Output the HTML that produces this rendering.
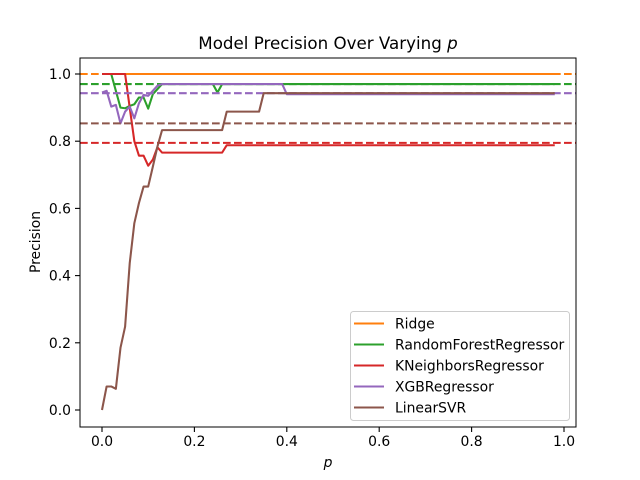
<!DOCTYPE html>
<html><head><meta charset="utf-8"><style>
body{margin:0;background:#fff}
svg{display:block;font-family:"DejaVu Sans","Liberation Sans",sans-serif}
</style></head><body>
<svg id="chart" width="640" height="480" viewBox="0 0 640 480">
<rect width="640" height="480" fill="#fff"/>
<text x="328" y="49" font-size="16.7" text-anchor="middle">Model Precision Over Varying <tspan font-style="italic">p</tspan></text>
<g id="plot"></g>
<rect x="80" y="58" width="496" height="369" fill="none" stroke="#000" stroke-width="1"/>
<g id="ticks"></g>
<text x="328" y="467" font-size="13.9" font-style="italic" text-anchor="middle">p</text>
<text x="0" y="0" font-size="13.9" text-anchor="middle" transform="translate(40,242) rotate(-90)">Precision</text>
<g id="legend"></g>
</svg>
<script>
const names = ["Ridge","RandomForestRegressor","KNeighborsRegressor","XGBRegressor","LinearSVR"];
const colors = ["#ff7f0e","#2ca02c","#d62728","#9467bd","#8c564b"];
const baselines = [1.0, 0.97, 0.795, 0.943, 0.853];
const xStep = 0.01;
const ridge = [].concat(Array(99).fill(1.0));
const forest = [].concat([1,1,1,0.95,0.90,0.898,0.905,0.91,0.93,0.93,0.897,0.94,0.955], Array(12).fill(0.97), [0.945], Array(73).fill(0.97));
const knn = [].concat([1,1,1,1,1,1,0.9,0.8,0.757,0.757,0.727,0.745,0.782], Array(14).fill(0.766), Array(72).fill(0.788));
const xgb = [].concat([0.945,0.95,0.903,0.908,0.853,0.888,0.903,0.868,0.913,0.938,0.935,0.95,0.965], Array(27).fill(0.97), Array(59).fill(0.94));
const svr = [].concat([0,0.07,0.07,0.063,0.185,0.248,0.437,0.556,0.616,0.665,0.665,0.724,0.784,0.833], Array(13).fill(0.833), Array(8).fill(0.888), Array(64).fill(0.943));
const series = [ridge, forest, knn, xgb, svr];
const xTicks = [0,0.2,0.4,0.6,0.8,1.0];
const yTicks = [0,0.2,0.4,0.6,0.8,1.0];
const xTickLabels = ["0.0","0.2","0.4","0.6","0.8","1.0"];
const yTickLabels = ["0.0","0.2","0.4","0.6","0.8","1.0"];

const NS="http://www.w3.org/2000/svg";
const X = v => 102 + v*462;
const Y = v => 410 - v*336;
function mk(tag, attrs, parent){const e=document.createElementNS(NS,tag);for(const k in attrs)e.setAttribute(k,attrs[k]);parent.appendChild(e);return e;}
const plot=document.getElementById('plot');
const keys=["ridge","random-forest","kneighbors","xgb","linear-svr"];
series.forEach((s,i)=>{
  const pts=s.map((v,j)=>X(j*xStep).toFixed(2)+","+Y(v).toFixed(2)).join(" ");
  const pl=mk('polyline',{points:pts,fill:"none",stroke:colors[i],"stroke-width":2.08,"stroke-linejoin":"round"},plot);
  
  
  const hl=mk('line',{x1:80,x2:576,y1:Y(baselines[i]),y2:Y(baselines[i]),stroke:colors[i],"stroke-width":2.08,"stroke-dasharray":"7.7,3.3"},plot);
  
  
});
const tk=document.getElementById('ticks');
xTicks.forEach((v,i)=>{
  const l=mk('line',{x1:X(v),x2:X(v),y1:427,y2:432,stroke:"#000","stroke-width":1.1},tk);
  
  
  const t=mk('text',{x:X(v),y:446,"font-size":13.9,"text-anchor":"middle"},tk);
  t.textContent=xTickLabels[i];
  
  
});
yTicks.forEach((v,i)=>{
  const l=mk('line',{x1:75,x2:80,y1:Y(v),y2:Y(v),stroke:"#000","stroke-width":1.1},tk);
  
  
  const t=mk('text',{x:71,y:Y(v)+5,"font-size":13.9,"text-anchor":"end"},tk);
  t.textContent=yTickLabels[i];
  
  
});
const lg=document.getElementById('legend');
const box=mk('rect',{x:350.5,y:311.5,width:219,height:109,rx:3,fill:"#fff","fill-opacity":0.8,stroke:"#ccc","stroke-width":1},lg);


names.forEach((n,i)=>{
  const y=323.5+i*21;
  const l=mk('line',{x1:354,x2:384,y1:y,y2:y,stroke:colors[i],"stroke-width":2.08},lg);
  
  
  const t=mk('text',{x:395,y:y+5,"font-size":13.9},lg);
  t.textContent=n;
  
  
});
</script>
</body></html>
